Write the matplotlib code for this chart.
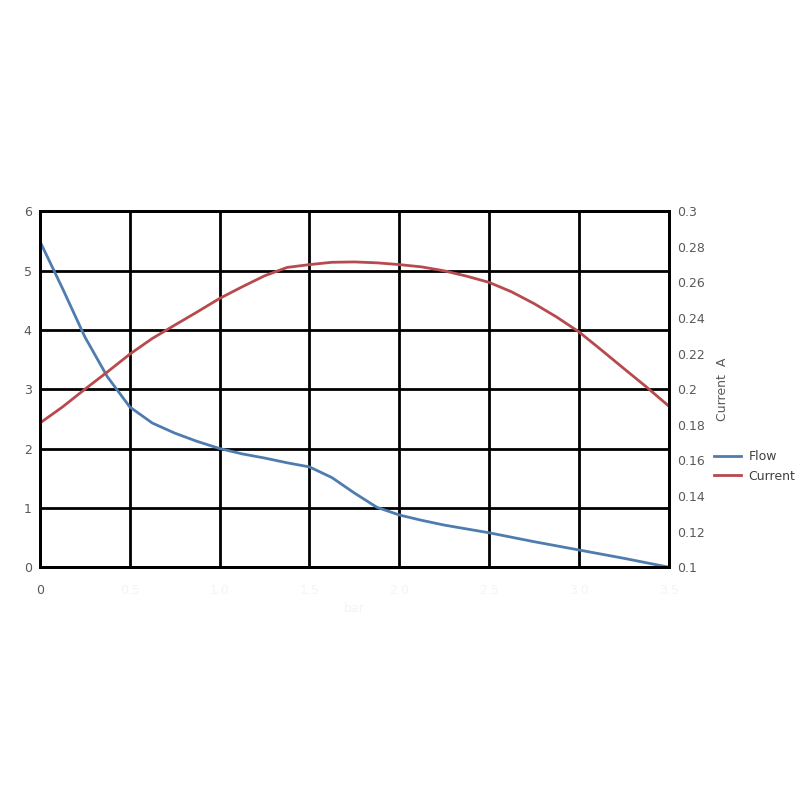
import numpy as np
import matplotlib
matplotlib.use("Agg")
import matplotlib.pyplot as plt

# pump curve: flow (left axis) and current (right axis), read at quarter steps
x_pos = [0, 0.25, 0.5, 0.75, 1, 1.25, 1.5, 1.75, 2, 2.25, 2.5, 2.75, 3, 3.25, 3.5,
         3.75, 4, 4.25, 4.5, 4.75, 5, 5.25, 5.5, 5.75, 6, 6.25, 6.5, 6.75, 7]
flow = [5.49, 4.70, 3.88, 3.21, 2.70, 2.43, 2.26, 2.12, 2.0, 1.91, 1.84, 1.76, 1.69,
        1.51, 1.25, 1.01, 0.88, 0.79, 0.71, 0.645, 0.58, 0.505, 0.43, 0.36, 0.29,
        0.22, 0.15, 0.075, 0.0]
current = [0.181, 0.190, 0.200, 0.2097, 0.2197, 0.2285, 0.236, 0.2434, 0.251, 0.2575,
           0.2637, 0.2684, 0.270, 0.2713, 0.2715, 0.271, 0.270, 0.2687, 0.2665, 0.2635,
           0.260, 0.2547, 0.2481, 0.2406, 0.2322, 0.222, 0.2116, 0.2013, 0.1905]
x_labels = ["0", "0.5", "1.0", "1.5", "2.0", "2.5", "3.0", "3.5"]

grey = "#595959"

fig = plt.figure(figsize=(8, 8), dpi=100)
ax1 = fig.add_axes([0.05, 0.291, 0.786, 0.445])
ax2 = ax1.twinx()

ax1.plot(x_pos, flow, color="#4f7cae", lw=2, label="Flow")
ax2.plot(x_pos, current, color="#b84a4e", lw=2, label="Current")

ax1.set_xlim(0, 7)
ax1.set_ylim(0, 6)
ax2.set_ylim(0.1, 0.3)
ax1.set_xticks(range(8))
ax1.set_xticklabels(x_labels)
ax1.set_yticks(range(7))
ax2.set_yticks(np.arange(0.1, 0.301, 0.02))
ax2.set_yticklabels(["0.1", "0.12", "0.14", "0.16", "0.18", "0.2", "0.22", "0.24",
                     "0.26", "0.28", "0.3"])

ax1.grid(True, color="black", lw=2)
ax1.set_axisbelow(True)
for ax in (ax1, ax2):
    ax.tick_params(length=0, labelsize=9, labelcolor=grey, pad=6)
    for s in ax.spines.values():
        s.set_color("black")
        s.set_linewidth(2)
ax1.tick_params(axis="x", pad=12)
for i, t in enumerate(ax1.get_xticklabels()):
    if i > 0:
        t.set_color("#f4f4f4")
ax1.set_xlabel("bar", color="#f4f4f4", fontsize=9, labelpad=4)
ax2.set_ylabel("Current  A", color=grey, fontsize=9, labelpad=8)

h1, l1 = ax1.get_legend_handles_labels()
h2, l2 = ax2.get_legend_handles_labels()
fig.legend(h1 + h2, l1 + l2, loc="center left", bbox_to_anchor=(0.878, 0.417),
           frameon=False, fontsize=9, labelcolor="#404040", handlelength=2.2,
           handletextpad=0.6, labelspacing=0.5)

plt.savefig("out.png", dpi=100)
